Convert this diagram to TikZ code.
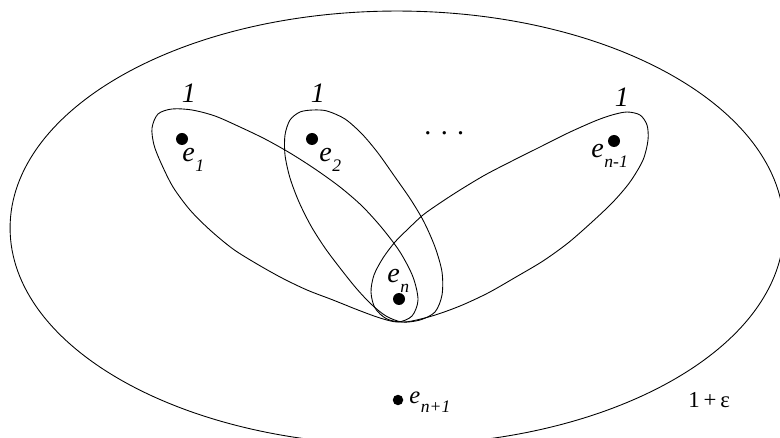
\documentclass[tikz,border=0pt]{standalone}
\usepackage{fontspec}
\setmainfont{Liberation Serif}
\usepackage{tikz}

\newcommand\vx[2][10]{\textit{e}\kern.3pt\raisebox{-5.5pt}{\fontsize{#1}{#1}\selectfont\itshape #2}}

\begin{document}
\begin{tikzpicture}[x=0.02cm,y=-0.02cm,line width=0.5pt,
  vertex/.style={circle,fill,inner sep=0pt,minimum size=0.24cm},
  lab/.style={anchor=base west,inner sep=0pt,font=\fontsize{16}{19}\selectfont},
  wt/.style={anchor=base,inner sep=0pt,font=\fontsize{16}{19}\selectfont\itshape}]
\useasboundingbox (0,0) rectangle (780,438);
\clip (0,0) rectangle (780,438);
\draw (397,228) ellipse [x radius=7.74cm,y radius=4.34cm];
\draw plot[smooth cycle] coordinates {(152,128) (158,114) (172,109) (192,110) (215,116) (240,127)
  (265,139) (290,153) (315,169) (340,187) (362,206) (382,228) (400,252) (413,277) (418,300)
  (412,316) (398,322) (380,318) (358,310) (333,300) (307,290) (282,278) (257,264) (233,249)
  (210,230) (190,210) (173,187) (161,163) (154,145)};
\draw plot[smooth cycle] coordinates {(313,110) (327,111) (345,119) (362,134) (378,153) (395,177)
  (411,200) (424,222) (435,247) (442,272) (442,295) (435,312) (420,320) (402,322) (386,316)
  (371,304) (356,288) (340,268) (325,248) (311,226) (299,202) (290,178) (285,155) (285,135)
  (290,120) (300,112)};
\draw plot[smooth cycle] coordinates {(627,112) (640,115) (647,125) (648,140) (643,160) (630,182)
  (613,202) (592,222) (568,243) (543,261) (516,277) (488,293) (460,306) (432,316) (405,322)
  (387,319) (375,308) (371,292) (374,275) (383,258) (395,242) (408,229) (423,215) (440,203)
  (460,190) (485,175) (512,161) (540,147) (568,133) (595,121) (612,115)};
\node[vertex] (v1) at (182,139) {};
\node[vertex] (v2) at (312,139) {};
\node[vertex] (vm) at (614,141) {};
\node[vertex] (vn) at (399,299) {};
\node[vertex,minimum size=0.21cm] (vo) at (398,400) {};
\node[lab] (l1) at (182,162) {\vx{1}};
\node[lab] (l2) at (319,162) {\vx{2}};
\node[lab] (lm) at (591,158) {\vx{n-1}};
\node[lab] (ln) at (387,283) {\vx{n}};
\node[lab,font=\fontsize{14}{17}\selectfont] (lo) at (409,403) {\vx{n+1}};
\node[wt] (w1) at (189,103) {1};
\node[wt] (w2) at (318,103) {1};
\node[wt] (wm) at (622,107) {1};
\node[lab] (dots) at (424,135) {. . .};
\node[lab,font=\fontsize{13}{15}\selectfont] (eps) at (688,407) {1\,+\,ε};
\end{tikzpicture}
\end{document}
